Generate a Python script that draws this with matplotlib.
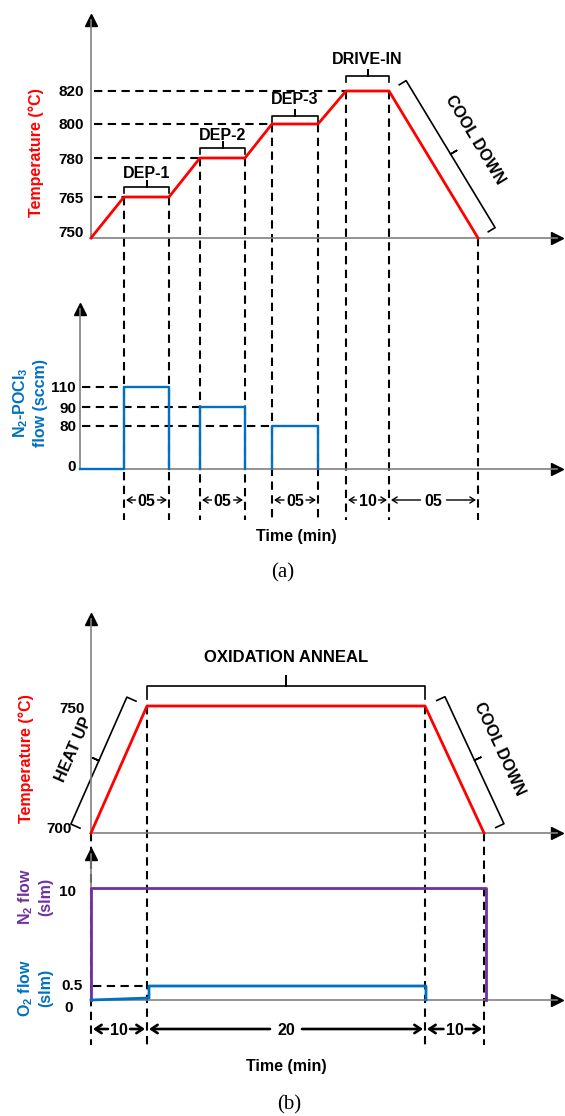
import numpy as np
import matplotlib
matplotlib.use("Agg")
import matplotlib.pyplot as plt

plt.rcParams['font.family'] = ['Liberation Sans', 'DejaVu Sans']
plt.rcParams['font.weight'] = 'bold'
plt.rcParams['mathtext.fontset'] = 'custom'
plt.rcParams['mathtext.rm'] = 'Liberation Sans:bold'
plt.rcParams['mathtext.default'] = 'rm'

# ---- (a) POCl3 diffusion: schematic time positions of stage edges ----
a_time = [0, 33, 78, 109, 154, 181, 227, 255, 298, 387]
a_temp = [750, 765, 765, 780, 780, 800, 800, 820, 820, 750]
a_temp_ticks = [750, 765, 780, 800, 820]
a_stages = ["DEP-1", "DEP-2", "DEP-3", "DRIVE-IN"]
a_flow = [110, 90, 80]
a_flow_ticks = [0, 80, 90, 110]
a_flow_start = -11
a_durations = ["05", "05", "05", "10", "05"]

# ---- (b) oxidation anneal ----
b_time = [0, 56, 334, 393]
b_temp = [700, 750, 750, 700]
b_temp_ticks = [700, 750]
b_n2_time = [0, 0, 395, 395]
b_n2 = [0, 10, 10, 0]
b_o2_time = [0, 58, 58, 335, 335]
b_o2 = [0, 0.07, 0.5, 0.5, 0]
b_flow_ticks = [0, 0.5, 10]
b_durations = ["10", "20", "10"]

# schematic (non-linear) spacing of the tick values, px above the axis
a_temp_pos = [0, 41, 80, 114, 147]
a_flow_pos = [0, 43, 62, 82]
b_temp_pos = [0, 127]
b_flow_pos = [0, 14, 112]

RED, BLUE, PURPLE, GREY = '#FF0000', '#0070C0', '#7030A0', '#808080'
W, H = 565, 1116
fig = plt.figure(figsize=(W / 100, H / 100), dpi=100)
ov = fig.add_axes([0, 0, 1, 1])
ov.set_xlim(0, W)
ov.set_ylim(H, 0)
ov.axis('off')
ov.set_zorder(-1)

dash = dict(color='black', lw=1.5, ls=(0, (4, 2.6)))
LAB = 11.5
TICK = 11


def panel(x_axis, y_axis, y_top, vals, pos, x_origin=91, x_end=557):
    ax = fig.add_axes([x_axis / W, (H - y_axis) / H, (x_end - x_axis) / W, (y_axis - y_top) / H])
    ax.set_xlim(x_axis - x_origin, x_end - x_origin)
    height = y_axis - y_top
    v = np.asarray(vals, float)
    p = np.asarray(pos, float)
    s_lo = (p[1] - p[0]) / (v[1] - v[0])
    s_hi = (p[-1] - p[-2]) / (v[-1] - v[-2])
    v_top = v[-1] + (height - p[-1]) / s_hi
    v_ext = np.concatenate([[v[0] - 1e4], v, [v_top + 1e4]])
    p_ext = np.concatenate([[p[0] - 1e4 * s_lo], p, [height + 1e4 * s_hi]])
    ax.set_yscale('function', functions=(lambda y: np.interp(y, v_ext, p_ext),
                                         lambda q: np.interp(q, p_ext, v_ext)))
    ax.set_ylim(v[0], v_top)
    ax.patch.set_visible(False)
    for s in ('top', 'right'):
        ax.spines[s].set_visible(False)
    for s in ('left', 'bottom'):
        ax.spines[s].set_color(GREY)
        ax.spines[s].set_linewidth(1.2)
    ax.set_xticks([])
    ax.set_yticks([])
    ax.plot([0], [1], marker='^', ms=8, color='k', transform=ax.transAxes, clip_on=False)
    ax.plot([1], [0], marker='>', ms=8, color='k', transform=ax.transAxes, clip_on=False)
    return ax


def px(ax, x, y):
    return ov.transData.inverted().transform(ax.transData.transform((x, y)))


def tick_labels(ax, vals, x_right, dys, dxs=None):
    for i, v in enumerate(vals):
        _, y = px(ax, 0, v)
        dx = 0 if dxs is None else dxs[i]
        ov.text(x_right + dx, y + dys[i], '%g' % v, ha='right', va='center', fontsize=TICK)


def brace(p0, p1, off, end, mid, text=None, text_off=0, fs=11.5, lw=1.2):
    p0, p1 = np.asarray(p0), np.asarray(p1)
    d = p1 - p0
    n = np.array([d[1], -d[0]]) / np.hypot(*d)
    a, b = p0 + n * off, p1 + n * off
    m = (a + b) / 2
    pts = np.array([a - n * end, a, m, m + n * mid, m, b, b - n * end])
    ov.plot(pts[:, 0], pts[:, 1], color='k', lw=lw, solid_joinstyle='round')
    if text:
        c = (p0 + p1) / 2 + n * text_off
        ang = np.degrees(np.arctan2(-d[1], d[0]))
        ov.text(c[0], c[1], text, rotation=ang, rotation_mode='anchor',
                ha='center', va='center', fontsize=fs)


def span(xa, xb, y, label, half, lw, hl, hw, fs=11.5):
    xc = (xa + xb) / 2
    ov.text(xc, y, label, ha='center', va='center_baseline', fontsize=fs)
    style = '->,head_length=%s,head_width=%s' % (hl, hw)
    for start, stop in ((xc - half, xa + 2), (xc + half, xb - 2)):
        ov.annotate('', xy=(stop, y), xytext=(start, y),
                    arrowprops=dict(arrowstyle=style, lw=lw, color='k', shrinkA=0, shrinkB=0))


# ================= (a) =================
ax1 = panel(91, 238, 20, a_temp_ticks, a_temp_pos)
ax1.plot(a_time, a_temp, color=RED, lw=2.0, clip_on=False, zorder=3)
tick_labels(ax1, a_temp_ticks, 84, [-5, 2, 2, 1, 1])

ax2 = panel(80, 469, 309, a_flow_ticks, a_flow_pos)
for i, f in enumerate(a_flow):
    t0, t1 = a_time[1 + 2 * i], a_time[2 + 2 * i]
    xs = [t0, t0, t1, t1]
    ys = [0, f, f, 0]
    if i == 0:
        xs = [a_flow_start] + xs
        ys = [0] + ys
    ax2.plot(xs, ys, color=BLUE, lw=1.7, clip_on=False, zorder=3)
    x_px, y_px = px(ax2, t0, f)
    ov.plot([82, x_px], [y_px, y_px], **dash)
tick_labels(ax2, a_flow_ticks, 76, [-2, 1, 2, 1])

# horizontal guides to each plateau
for k in (1, 3, 5, 7):
    x_px, y_px = px(ax1, a_time[k], a_temp[k])
    ov.plot([94, x_px], [y_px, y_px], **dash)
# vertical guides through both plots
for k in range(1, len(a_time)):
    x_px, y_px = px(ax1, a_time[k], a_temp[k])
    ov.plot([x_px, x_px], [y_px, 520], **dash)

# stage braces
a_brace_off = [10, 10, 8, 15]
a_text_off = [24, 23, 24, 31]
for i, name in enumerate(a_stages):
    p0 = px(ax1, a_time[1 + 2 * i], a_temp[1 + 2 * i])
    p1 = px(ax1, a_time[2 + 2 * i], a_temp[2 + 2 * i])
    brace(p0, p1, a_brace_off[i], 6, 6, name, a_text_off[i])
brace(px(ax1, a_time[8], a_temp[8]), px(ax1, a_time[9], a_temp[9]), 20, 8, 7, "COOL DOWN", 48)

# durations
a_pairs = [(1, 2), (3, 4), (5, 6), (7, 8), (8, 9)]
for (i, j), lab in zip(a_pairs, a_durations):
    xa = px(ax1, a_time[i], 750)[0]
    xb = px(ax1, a_time[j], 750)[0]
    span(xa, xb, 500, lab, 11 if xb - xa < 60 else 13, 1.0, 0.35, 0.22)

ov.text(36, 153, 'Temperature (°C)', rotation=90, color=RED, fontsize=LAB, ha='center', va='center')
ov.text(21, 403, 'N$_2$-POCl$_3$', rotation=90, color=BLUE, fontsize=LAB, ha='center', va='center')
ov.text(40, 403, 'flow (sccm)', rotation=90, color=BLUE, fontsize=LAB, ha='center', va='center')
ov.text(296, 537, 'Time (min)', fontsize=LAB, ha='center', va='center')
ov.text(283, 573, '(a)', fontsize=15, ha='center', va='center', family='Liberation Serif', weight='normal')

# ================= (b) =================
ax3 = panel(91, 833, 619, b_temp_ticks, b_temp_pos)
ax3.plot(b_time, b_temp, color=RED, lw=2.0, clip_on=False, zorder=3)
tick_labels(ax3, b_temp_ticks, 85, [-4, 3], [-13, 0])

ax4 = panel(91, 1000, 854, b_flow_ticks, b_flow_pos)
ax4.plot(b_n2_time, b_n2, color=PURPLE, lw=2.0, clip_on=False, zorder=3)
ax4.plot(b_o2_time, b_o2, color=BLUE, lw=2.0, clip_on=False, zorder=4)
tick_labels(ax4, b_flow_ticks, 76, [8, 0, 4], [-3, 7, 0])
x_px, y_px = px(ax4, b_o2_time[2], b_o2[2])
ov.plot([93, x_px], [y_px, y_px], **dash)

for k in range(len(b_time)):
    x_px, y_px = px(ax3, b_time[k], b_temp[k])
    ov.plot([x_px, x_px], [y_px, 1045], **dash)

brace(px(ax3, b_time[0], b_temp[0]), px(ax3, b_time[1], b_temp[1]), 22, 10, 7, "HEAT UP", 49)
brace(px(ax3, b_time[1], b_temp[1]), px(ax3, b_time[2], b_temp[2]), 20, 13, 10, "OXIDATION ANNEAL", 48, fs=12)
brace(px(ax3, b_time[2], b_temp[2]), px(ax3, b_time[3], b_temp[3]), 22, 9, 7, "COOL DOWN", 50)

b_half = [11, 16, 11]
for i, lab in enumerate(b_durations):
    xa = px(ax3, b_time[i], 700)[0]
    xb = px(ax3, b_time[i + 1], 700)[0]
    span(xa, xb, 1029, lab, b_half[i], 1.9, 0.45, 0.3, fs=11.5)

ov.text(26, 759, 'Temperature (°C)', rotation=90, color=RED, fontsize=LAB, ha='center', va='center')
ov.text(26, 897, 'N$_2$ flow', rotation=90, color=PURPLE, fontsize=LAB, ha='center', va='center')
ov.text(46, 897, '(slm)', rotation=90, color=PURPLE, fontsize=LAB, ha='center', va='center')
ov.text(26, 988, 'O$_2$ flow', rotation=90, color=BLUE, fontsize=LAB, ha='center', va='center')
ov.text(46, 988, '(slm)', rotation=90, color=BLUE, fontsize=LAB, ha='center', va='center')
ov.text(286, 1067, 'Time (min)', fontsize=LAB, ha='center', va='center')
ov.text(289, 1105, '(b)', fontsize=15, ha='center', va='center', family='Liberation Serif', weight='normal')

fig.savefig('out.png', dpi=100)
